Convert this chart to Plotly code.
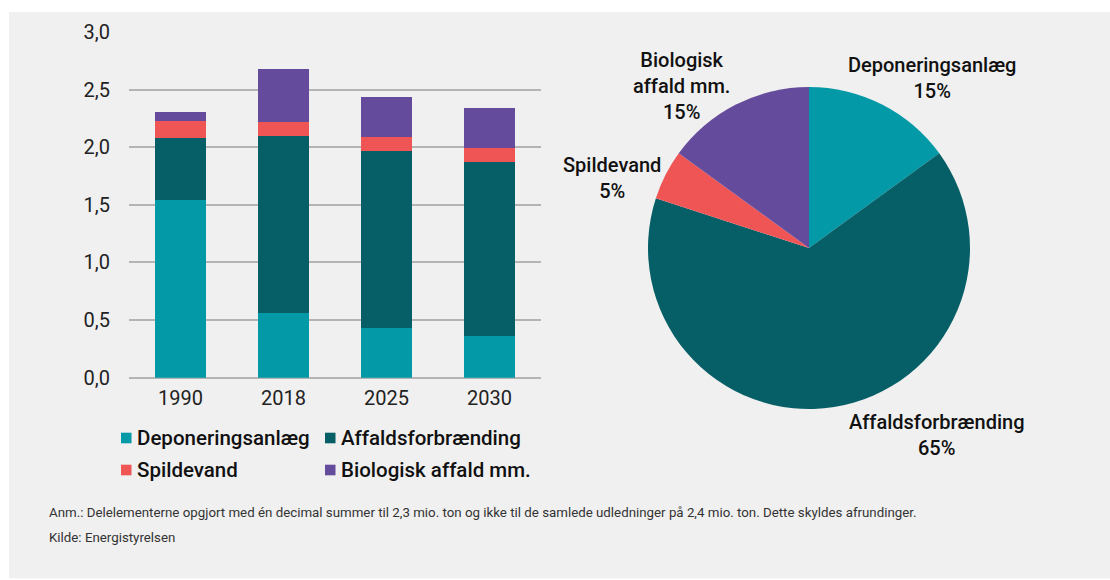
import plotly.graph_objects as go

# Emissions by source (mio. ton CO2e)
years = ["1990", "2018", "2025", "2030"]
series_names = ["Deponeringsanlæg", "Affaldsforbrænding", "Spildevand", "Biologisk affald mm."]
deponering = [1.54, 0.56, 0.43, 0.36]
affaldsforbraending = [0.54, 1.54, 1.54, 1.51]
spildevand = [0.15, 0.12, 0.12, 0.12]
biologisk = [0.08, 0.46, 0.35, 0.35]

# 2030 shares (%)
pie_values = [15, 65, 5, 15]
pie_text_names = ["Deponeringsanlæg", "Affaldsforbrænding", "Spildevand", "Biologisk<br>affald mm."]

y_ticks = [0.0, 0.5, 1.0, 1.5, 2.0, 2.5, 3.0]

note = ("Anm.: Delelementerne opgjort med én decimal summer til 2,3 mio. ton og ikke til de samlede "
        "udledninger på 2,4 mio. ton. Dette skyldes afrundinger.")
source = "Kilde: Energistyrelsen"

colors = ["#0399a7", "#065f67", "#f05556", "#654b9c"]
W, H = 1110, 580
FONT = "Roboto"

fig = go.Figure()

for name, vals, col in zip(series_names, [deponering, affaldsforbraending, spildevand, biologisk], colors):
    fig.add_trace(go.Bar(
        x=years, y=vals, name=name, marker=dict(color=col, line=dict(width=0)),
        width=0.5, xaxis="x", yaxis="y", showlegend=False,
    ))

fig.add_trace(go.Pie(
    values=pie_values, labels=series_names, sort=False, direction="clockwise", rotation=0,
    marker=dict(colors=colors, line=dict(width=0)), textinfo="none", showlegend=False,
    hoverinfo="label+percent",
    domain=dict(x=[648 / W, 970 / W], y=[(H - 409) / H, (H - 87) / H]),
))

annotations = []
shapes = [dict(type="rect", xref="paper", yref="paper", x0=9 / W, x1=1, y0=0.003, y1=1 - 12 / H,
               fillcolor="#f0f0f0", line=dict(width=0), layer="below")]

# pie labels placed around the circle
label_pos = [(932, 78), (936, 435), (612, 178), (681, 86)]
for txt, v, (px, py) in zip(pie_text_names, pie_values, label_pos):
    annotations.append(dict(
        x=px / W, y=1 - py / H, xref="paper", yref="paper", showarrow=False,
        text=f"{txt}<br>{v}%", align="center", xanchor="center", yanchor="middle",
        font=dict(family=FONT, size=20, color="#111111", weight=500),
    ))

# legend: two columns, two rows (square swatch + label)
legend_cols = [121, 325]
legend_rows = [438, 470]
for i, (name, col) in enumerate(zip(series_names, colors)):
    lx = legend_cols[i % 2]
    ly = legend_rows[i // 2]
    shapes.append(dict(type="rect", xref="paper", yref="paper",
                       x0=lx / W, x1=(lx + 10.5) / W, y0=1 - (ly + 5.3) / H, y1=1 - (ly - 5.3) / H,
                       fillcolor=col, line=dict(width=0)))
    annotations.append(dict(
        x=(lx + 14) / W, y=1 - ly / H, xref="paper", yref="paper", showarrow=False,
        text=name, xanchor="left", yanchor="middle",
        font=dict(family=FONT, size=20.5, color="#111111", weight=500),
    ))

annotations.append(dict(
    x=47 / W, y=1 - 512 / H, xref="paper", yref="paper", showarrow=False, text=note,
    xanchor="left", yanchor="middle", font=dict(family=FONT, size=13.3, color="#333333"),
))
annotations.append(dict(
    x=47 / W, y=1 - 537 / H, xref="paper", yref="paper", showarrow=False, text=source,
    xanchor="left", yanchor="middle", font=dict(family=FONT, size=13.3, color="#333333"),
))

fig.update_layout(
    width=W, height=H,
    margin=dict(l=0, r=0, t=0, b=0, autoexpand=False),
    paper_bgcolor="#ffffff",
    plot_bgcolor="rgba(0,0,0,0)",
    separators=",.",
    barmode="stack",
    bargap=0.5,
    showlegend=False,
    font=dict(family=FONT, size=20, color="#222222"),
    xaxis=dict(
        domain=[129 / W, 541 / W], range=[-0.5, 3.5], type="category",
        showgrid=False, zeroline=False, showline=False, ticks="", automargin=False,
        tickfont=dict(family=FONT, size=20, color="#222222"), ticklabelstandoff=6,
    ),
    yaxis=dict(
        domain=[(H - 377.7) / H, (H - 32) / H], range=[0, 3.0], automargin=False,
        tickvals=y_ticks, tickformat=".1f", showgrid=True, gridcolor="#b4b4b4", gridwidth=1.5,
        zeroline=True, zerolinecolor="#b4b4b4", zerolinewidth=1.5, showline=False, ticks="",
        tickfont=dict(family=FONT, size=20, color="#222222"), ticklabelstandoff=18,
    ),
    shapes=shapes,
    annotations=annotations,
)

fig.write_html("out.html")
